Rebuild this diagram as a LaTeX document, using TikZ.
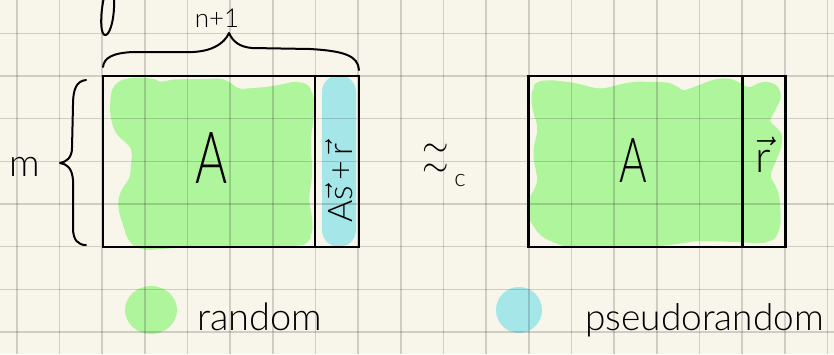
\RequirePackage{fix-cm}
\documentclass[tikz,border=0pt]{standalone}
\usepackage{fontspec}
\IfFontExistsTF{Lato Light}{\setmainfont{Lato Light}}{\setmainfont{Lato}}
\definecolor{paper}{RGB}{248,246,234}
\definecolor{randgreen}{RGB}{174,245,155}
\definecolor{pseudoblue}{RGB}{165,231,233}
\tikzset{
  ink/.style={line width=2pt, line cap=round, line join=round, black},
  boxline/.style={line width=2.4pt, black},
  gridline/.style={line width=1.6pt, black, opacity=0.16},
  greenpatch/.style={fill=randgreen, draw=randgreen, line width=9pt, rounded corners=8pt, line join=round},
  hand/.style={inner sep=0pt, text=black},
}
\newcommand{\fs}[1]{\fontsize{#1}{#1}\selectfont}
\begin{document}
\begin{tikzpicture}[x=1pt, y=-1pt]
  % paper
  \fill[paper] (0,0) rectangle (834,354);
  \useasboundingbox (0,0) rectangle (834,354);

  % green brush patch, left matrix
  \path[greenpatch] (116,87) -- (130,82) -- (152,82) -- (159,89) -- (168,84) -- (226,83)
    -- (235,94) -- (272,91) -- (300,85) -- (309,92) -- (310,112) -- (306,140) -- (308,175)
    -- (304,200) -- (308,218) -- (308,236) -- (300,242) -- (240,242) -- (180,243)
    -- (143,246) -- (132,240) -- (128,225) -- (122,208) -- (124,192) -- (134,182)
    -- (137,150) -- (133,142) -- (119,132) -- (114,112) -- cycle;

  % blue column
  \fill[pseudoblue, rounded corners=17pt] (322,75) rectangle (356,247);

  % green brush patch, right matrix
  \path[greenpatch] (536,88) -- (545,84) -- (573,87) -- (600,94) -- (633,86) -- (673,87)
    -- (680,97) -- (720,82) -- (735,84) -- (747,94) -- (767,84) -- (779,93) -- (763,124)
    -- (776,131) -- (779,142) -- (764,178) -- (773,188) -- (776,204) -- (776,230)
    -- (768,239) -- (700,236) -- (667,241) -- (617,243) -- (567,243) -- (543,233)
    -- (529,210) -- (537,193) -- (543,183) -- (537,153) -- (543,127) -- (536,107) -- cycle;

  % legend dots
  \fill[randgreen] (151,310) ellipse [x radius=26, y radius=24];
  \fill[pseudoblue] (519,310) ellipse [x radius=23, y radius=23];

  % squared paper
  \foreach \i in {0,...,19}
    \draw[gridline] ({16.7+42.67*\i},0) -- ++(0,354);
  \foreach \j in {1,...,8}
    \draw[gridline] (0,{-9.33+42.67*\j}) -- ++(834,0);

  % matrices
  \coordinate (m1nw) at (103,76);
  \coordinate (m1se) at (359,247);
  \coordinate (m2nw) at (528.5,76);
  \coordinate (m2se) at (785.5,247);
  \draw[boxline] (m1nw) rectangle (m1se);
  \draw[boxline] (315,76) -- (315,247);
  \draw[boxline] (m2nw) rectangle (m2se);
  \draw[boxline] (742.5,76) -- (742.5,247);

  % braces and stray stroke
  \draw[ink] (103,67) .. controls (104,58) and (112,53) .. (133,52) -- (193,52)
    .. controls (212,51) and (224,44) .. (229,33)
    .. controls (233,42) and (240,47) .. (252,48) -- (310,49)
    .. controls (345,51) and (358,56) .. (359,70);
  \draw[ink] (86,80) .. controls (76,81) and (73,90) .. (73,105) -- (72,148)
    .. controls (72,158) and (66,162) .. (60,163)
    .. controls (67,164) and (72,168) .. (73,180) -- (73,228)
    .. controls (73,240) and (78,245) .. (86,245);
  \draw[ink] (114,-3) .. controls (115,15) and (111,33) .. (106,35)
    .. controls (100,37) and (100,15) .. (104,-3);

  % labels
  \node[hand, anchor=base, font=\fs{26}] (ncols) at (217,27) {n+1};
  \node[hand, anchor=base, font=\fs{38}] (mrows) at (25,176) {m};
  \node[hand, anchor=base, font=\fs{72}] (leftA) at (212,183) {\scalebox{0.68}[1]{A}};
  \node[hand, rotate=90, font=\fs{34}] (colexpr) at (339,183) {A$\vec{\mbox{s}}$\,+\,$\vec{\mbox{r}}$};
  \node[hand, anchor=base, font=\fs{62}] (rightA) at (633,182) {\scalebox{0.68}[1]{A}};
  \node[hand, anchor=base, font=\fs{44}] (rvec) at (763,172) {$\vec{\mbox{r}}$};
  \node[hand, font=\fs{34}] (approxc) at (444,160)
    {\begin{tabular}{@{}l@{}}$\sim$\\[-14pt]$\sim$\,\raisebox{-10pt}{\fs{24}c}\end{tabular}};
  \node[hand, anchor=base west, font=\fs{38}] (randlbl) at (197,330) {random};
  \node[hand, anchor=base west, font=\fs{37}] (pseudolbl) at (585,330) {pseudorandom};
\end{tikzpicture}
\end{document}
